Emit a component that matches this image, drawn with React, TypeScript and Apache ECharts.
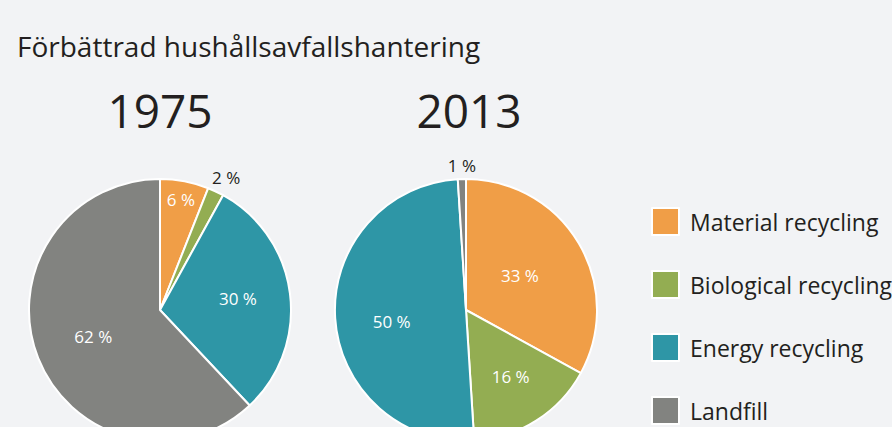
import React, { useEffect, useRef } from "react";
import * as echarts from "echarts";

const categories = ["Material recycling", "Biological recycling", "Energy recycling", "Landfill"];
const years = ["1975", "2013"];
const values1975 = [6, 2, 30, 62];
const values2013 = [33, 16, 50, 1];
const colors = ["#f09e47", "#93ad52", "#2e96a6", "#828380"];

// label offsets [dx, dy] per series / slice
const labelOffsets = [
  [[8, -43], [37, -71], [10, -3], [-3, 1]],
  [[-5, 0], [8, 9], [-6, 7], [-2, -76]],
];

const FONT = "'Open Sans', 'Noto Sans', sans-serif";

export default function App() {
  const ref = useRef<HTMLDivElement>(null);
  useEffect(() => {
    if (!ref.current) return;
    const chart = echarts.init(ref.current, null, { renderer: "svg" });
    const mk = (vals: number[], center: string[], sIdx: number) => ({
      type: "pie",
      center,
      radius: 131,
      startAngle: 90,
      clockwise: true,
      label: {
        show: true,
        position: "inside",
        formatter: "{c} %",
        color: "#ffffff",
        fontSize: 17,
        fontFamily: FONT,
      },
      labelLine: { show: false },
      itemStyle: { borderColor: "#ffffff", borderWidth: 2 },
      emphasis: { disabled: true },
      labelLayout: (p: any) => {
        const o = labelOffsets[sIdx][p.dataIndex];
        return { dx: o[0], dy: o[1] };
      },
      data: vals.map((v, i) => ({
        name: categories[i],
        value: v,
        itemStyle: { color: colors[i] },
        label: v < 3 ? { color: "#231f20" } : undefined,
      })),
    });
    chart.setOption({
      animation: false,
      backgroundColor: "#f2f3f5",
      title: [
        {
          text: "Förbättrad hushållsavfallshantering",
          left: 12,
          top: 27,
          textStyle: { fontFamily: FONT, fontSize: 28, fontWeight: "normal", color: "#231f20" },
        },
        {
          text: years[0],
          left: 155,
          top: 82,
          textAlign: "center",
          textStyle: { fontFamily: FONT, fontSize: 46, fontWeight: "normal", color: "#231f20" },
        },
        {
          text: years[1],
          left: 464,
          top: 82,
          textAlign: "center",
          textStyle: { fontFamily: FONT, fontSize: 46, fontWeight: "normal", color: "#231f20" },
        },
      ],
      legend: {
        orient: "vertical",
        left: 651,
        top: 207,
        padding: 0,
        itemWidth: 27,
        itemHeight: 27,
        itemGap: 34,
        icon: "rect",
        data: categories,
        textStyle: { fontFamily: FONT, fontSize: 23, color: "#231f20", padding: [0, 0, 0, 6] },
        selectedMode: false,
      },
      series: [mk(values1975, ["160", "310"], 0), mk(values2013, ["466", "310"], 1)],
    });
    return () => chart.dispose();
  }, []);
  return (
    <div
      ref={ref}
      style={{ position: "fixed", left: 0, top: 0, width: 892, height: 427 }}
    />
  );
}
